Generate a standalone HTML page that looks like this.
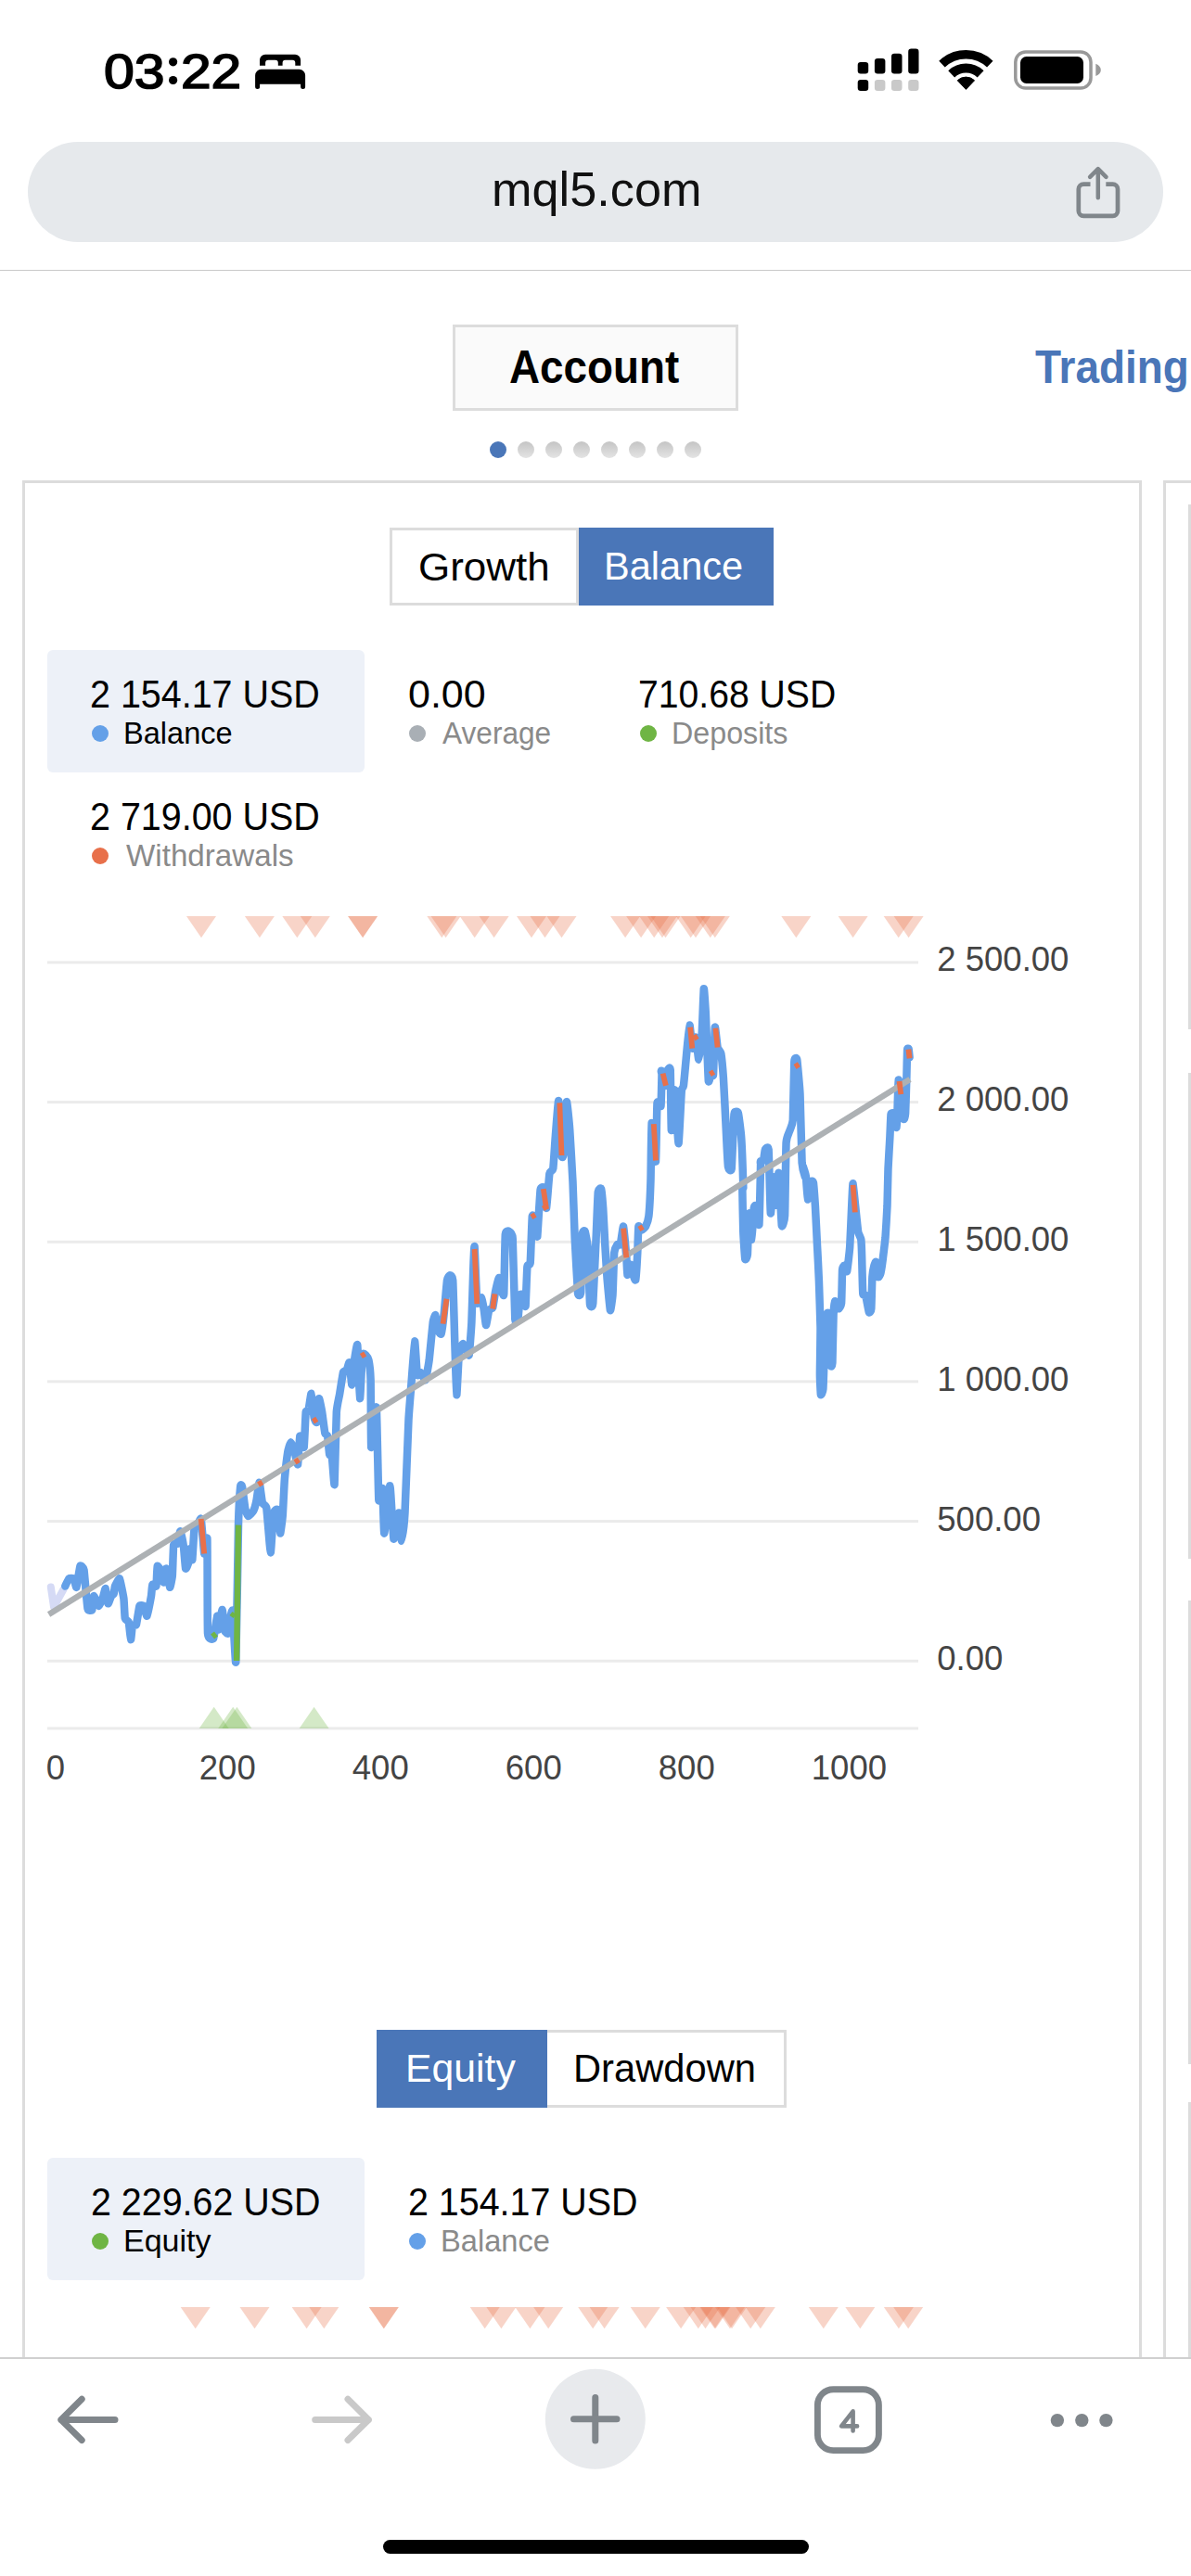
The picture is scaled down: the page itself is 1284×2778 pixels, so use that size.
<!DOCTYPE html>
<html><head><meta charset="utf-8">
<style>
*{margin:0;padding:0;box-sizing:border-box}
html,body{width:1284px;height:2778px;background:#fff;overflow:hidden}
body{position:relative;font-family:"Liberation Sans",sans-serif;color:#000}
.abs{position:absolute}
.t{position:absolute;white-space:nowrap;line-height:1}
.f{position:absolute;white-space:nowrap;line-height:1;transform-origin:0 0}
#time{left:110px;top:48px;font-size:54px;font-weight:bold;letter-spacing:1.5px}
#urlbar{left:30px;top:153px;width:1224px;height:108px;border-radius:54px;background:#e6e9ec}
#url{left:0;width:1284px;text-align:center;top:179px;font-size:50px;color:#111}
#sep1{left:0;top:291px;width:1284px;height:1px;background:#c9c9c9}
#acct{left:488px;top:350px;width:308px;height:93px;border:3px solid #dcdcdc;background:#fafafa}
#acct-t{left:488px;width:308px;text-align:center;top:372px;font-size:48px;font-weight:bold}
#trading{left:1115px;top:372px;font-size:48px;font-weight:bold;color:#4a76b8;letter-spacing:-2px}
.dot{position:absolute;width:18.5px;height:18.5px;border-radius:50%;top:475.5px;background:linear-gradient(#c4c4c4,#e4e4e4)}
.dot.on{background:#4a76b8;box-shadow:none}
#panel{left:24px;top:518px;width:1206.5px;height:2100px;border:3px solid #dcdcdc;background:#fff}
#panel2{left:1254px;top:518px;width:100px;height:2100px;border:3px solid #dcdcdc;background:#fff}
.frag{position:absolute;left:1281px;width:3px;background:#dcdcdc}
.btn{position:absolute;height:84px;font-size:42px;text-align:center;line-height:84px;white-space:nowrap}
.btn.off{border:3px solid #dcdcdc;background:#fff;color:#000;line-height:78px}
.btn.on{background:#4a76b8;color:#fff}
.sbox{position:absolute;background:#edf1f8;border-radius:6px;width:342px;height:132px;left:51px}
.val{position:absolute;white-space:nowrap;font-size:41px;line-height:1;letter-spacing:-1.4px}
.lab{position:absolute;white-space:nowrap;font-size:31px;line-height:1}
.lab.g{color:#8a8a8a}
.bul{position:absolute;width:18px;height:18px;border-radius:50%}
.ax{position:absolute;white-space:nowrap;font-size:36.5px;line-height:1;color:#444;transform-origin:0 0;transform:scaleX(1.0)}
#toolbar{left:0;top:2542px;width:1284px;height:236px;background:#fff;border-top:2px solid #d0d0d0}
#home{left:413px;top:2739px;width:459px;height:15px;border-radius:8px;background:#000}
</style></head><body>
<!-- status bar -->
<div class="f" style="left:111.7px;top:50.8px;font-size:52.6px;-webkit-text-stroke:1.6px #000;transform:scaleX(1.12)">03</div><div class="f" style="left:195.3px;top:50.8px;font-size:52.6px;-webkit-text-stroke:1.6px #000;transform:scaleX(1.115)">22</div>
<svg class="abs" style="left:0;top:0" width="1284" height="140" viewBox="0 0 1284 140">
 <circle cx="186.6" cy="66.8" r="4.6" fill="#000"/><circle cx="186.6" cy="86.5" r="4.6" fill="#000"/>
 <!-- bed -->
 <path d="M280,70.8 v-6 a6,6 0 0 1 6,-6 h32.1 a6,6 0 0 1 6,6 v6 h-5.8 v-3 a3,3 0 0 0 -3,-3 h-7.7 a3,3 0 0 0 -3,3 v3 h-4.8 v-3 a3,3 0 0 0 -3,-3 h-7.7 a3,3 0 0 0 -3,3 v3 z" fill="#000"/>
 <path d="M275.1,93.4 v-12.1 a6.5,6.5 0 0 1 6.5,-6.5 h41 a6.5,6.5 0 0 1 6.5,6.5 v12.1 a2.5,2.5 0 0 1 -5,0 v-2.6 h-44 v2.6 a2.5,2.5 0 0 1 -5,0 z" fill="#000"/>
 <!-- signal -->
 <rect x="924.7" y="66.9" width="11.5" height="12.6" rx="3.2" fill="#000"/>
 <rect x="942.9" y="62.9" width="11.5" height="16.6" rx="3.2" fill="#000"/>
 <rect x="961" y="57.8" width="11.5" height="21.7" rx="3.2" fill="#000"/>
 <rect x="979.2" y="52.6" width="11.3" height="26.9" rx="3.2" fill="#000"/>
 <rect x="924.7" y="85.9" width="11.5" height="12.1" rx="3.2" fill="#000"/>
 <rect x="942.9" y="85.9" width="11.5" height="12.1" rx="3.2" fill="#c9c9c9"/>
 <rect x="961" y="85.9" width="11.5" height="12.1" rx="3.2" fill="#c9c9c9"/>
 <rect x="979.2" y="85.9" width="11.3" height="12.1" rx="3.2" fill="#c9c9c9"/>
 <!-- wifi -->
 <path d="M1015.52,69.13 A37.6,37.6 0 0 1 1067.28,69.13" fill="none" stroke="#000" stroke-width="9.4"/><path d="M1025.71,79.86 A22.8,22.8 0 0 1 1057.09,79.86" fill="none" stroke="#000" stroke-width="10"/><path d="M1041.4,96.4 L1032.24,86.75 A13.3,13.3 0 0 1 1050.56,86.75 z" fill="#000" stroke="#000" stroke-width="1" stroke-linejoin="round"/>
 <!-- battery -->
 <rect x="1094.8" y="55.9" width="81.2" height="39.2" rx="11" fill="none" stroke="#999" stroke-width="3.5"/>
 <rect x="1100" y="61" width="68" height="29" rx="6.5" fill="#000"/>
 <path d="M1181.3,68.7 q5.5,2.5 5.5,6.7 q0,4.2 -5.5,6.7 z" fill="#999"/>
</svg>
<!-- url bar -->
<div class="abs" id="urlbar"></div>
<div class="f" style="left:529.6px;top:178.7px;font-size:51.1px;font-weight:normal;color:#111;transform:scaleX(1.0228)">mql5.com</div>
<svg class="abs" style="left:1150px;top:170px" width="70" height="80" viewBox="1150 170 70 80">
 <path d="M1175.5,198.6 h-7.3 a5.4,5.4 0 0 0 -5.4,5.4 v23.5 a5.4,5.4 0 0 0 5.4,5.4 h31.4 a5.4,5.4 0 0 0 5.4,-5.4 v-23.5 a5.4,5.4 0 0 0 -5.4,-5.4 h-7.3" fill="none" stroke="#80868b" stroke-width="4.7"/>
 <path d="M1183.8,213.2 V182.4 M1175.1,190.9 L1183.8,182.2 L1192.5,190.9" fill="none" stroke="#80868b" stroke-width="4.5" stroke-linecap="round" stroke-linejoin="round"/>
</svg>
<div class="abs" id="sep1"></div>
<!-- tabs -->
<div class="abs" id="acct"></div>
<div class="f" style="left:549.3px;top:371.0px;font-size:50.0px;font-weight:bold;color:#000;transform:scaleX(0.9157)">Account</div>
<div class="f" style="left:1116.4px;top:371.7px;font-size:49.7px;font-weight:bold;color:#4a76b8;transform:scaleX(0.924)">Trading</div>
<div class="dot on" style="left:527.5px"></div><div class="dot" style="left:557.5px"></div><div class="dot" style="left:587.5px"></div><div class="dot" style="left:617.5px"></div><div class="dot" style="left:647.5px"></div><div class="dot" style="left:677.5px"></div><div class="dot" style="left:707.5px"></div><div class="dot" style="left:737.5px"></div>
<!-- panel -->
<div class="abs" id="panel"></div>
<div class="abs" id="panel2"></div>
<div class="frag" style="top:544px;height:566px"></div>
<div class="frag" style="top:1157px;height:524px"></div>
<div class="frag" style="top:1726px;height:500px"></div>
<div class="frag" style="top:2267px;height:300px"></div>

<div class="btn off" style="left:420px;top:569px;width:204px"></div><div class="f" style="left:451.0px;top:590.1px;font-size:43.0px;font-weight:normal;color:#000;transform:scaleX(1.0224)">Growth</div>
<div class="btn on" style="left:624px;top:569px;width:210px"></div><div class="f" style="left:651.0px;top:589.3px;font-size:43.0px;font-weight:normal;color:#fff;transform:scaleX(0.966)">Balance</div>

<div class="sbox" style="top:701px"></div>
<div class="f" style="left:97.1px;top:728.4px;font-size:42.0px;font-weight:normal;color:#000;transform:scaleX(0.9392)">2 154.17 USD</div>
<div class="bul" style="left:99px;top:782px;background:#64a0e8"></div>
<div class="f" style="left:132.8px;top:775.0px;font-size:32.5px;font-weight:normal;color:#000;transform:scaleX(1.0018)">Balance</div>

<div class="f" style="left:439.7px;top:728.4px;font-size:42.0px;font-weight:normal;color:#000;transform:scaleX(1.0231)">0.00</div>
<div class="bul" style="left:441px;top:782px;background:#a9afb5"></div>
<div class="f" style="left:477.0px;top:775.0px;font-size:32.5px;font-weight:normal;color:#8a8a8a;transform:scaleX(0.9723)">Average</div>

<div class="f" style="left:688.1px;top:728.4px;font-size:42.0px;font-weight:normal;color:#000;transform:scaleX(0.9316)">710.68 USD</div>
<div class="bul" style="left:690px;top:782px;background:#6fb544"></div>
<div class="f" style="left:724.0px;top:775.0px;font-size:32.5px;font-weight:normal;color:#8a8a8a;transform:scaleX(0.9918)">Deposits</div>

<div class="f" style="left:97.1px;top:860.4px;font-size:42.0px;font-weight:normal;color:#000;transform:scaleX(0.9392)">2 719.00 USD</div>
<div class="bul" style="left:99px;top:914px;background:#e8704a"></div>
<div class="f" style="left:135.8px;top:907.0px;font-size:32.5px;font-weight:normal;color:#8a8a8a;transform:scaleX(1.0205)">Withdrawals</div>

<svg id="chart" width="1284" height="2778" viewBox="0 0 1284 2778" style="position:absolute;left:0;top:0">
<rect x="51" y="1036.4" width="939" height="3" fill="#ebebeb"/>
<rect x="51" y="1187.1" width="939" height="3" fill="#ebebeb"/>
<rect x="51" y="1337.8" width="939" height="3" fill="#ebebeb"/>
<rect x="51" y="1488.4" width="939" height="3" fill="#ebebeb"/>
<rect x="51" y="1639.1" width="939" height="3" fill="#ebebeb"/>
<rect x="51" y="1789.8" width="939" height="3" fill="#ebebeb"/>
<rect x="51" y="1862.4" width="939" height="3" fill="#ebebeb"/>
<path d="M201,988 h32 l-16,23.3z" fill="#e8704a" fill-opacity="0.3"/>
<path d="M263.9,988 h32 l-16,23.3z" fill="#e8704a" fill-opacity="0.3"/>
<path d="M304.3,988 h32 l-16,23.3z" fill="#e8704a" fill-opacity="0.3"/>
<path d="M323.8,988 h32 l-16,23.3z" fill="#e8704a" fill-opacity="0.3"/>
<path d="M375.1,988 h32 l-16,23.3z" fill="#e8704a" fill-opacity="0.3"/>
<path d="M375.1,988 h32 l-16,23.3z" fill="#e8704a" fill-opacity="0.3"/>
<path d="M460.3,988 h32 l-16,23.3z" fill="#e8704a" fill-opacity="0.3"/>
<path d="M464.6,988 h32 l-16,23.3z" fill="#e8704a" fill-opacity="0.3"/>
<path d="M495.7,988 h32 l-16,23.3z" fill="#e8704a" fill-opacity="0.3"/>
<path d="M516.6,988 h32 l-16,23.3z" fill="#e8704a" fill-opacity="0.3"/>
<path d="M557,988 h32 l-16,23.3z" fill="#e8704a" fill-opacity="0.3"/>
<path d="M571.5,988 h32 l-16,23.3z" fill="#e8704a" fill-opacity="0.3"/>
<path d="M589.5,988 h32 l-16,23.3z" fill="#e8704a" fill-opacity="0.3"/>
<path d="M658.1,988 h32 l-16,23.3z" fill="#e8704a" fill-opacity="0.3"/>
<path d="M675.1,988 h32 l-16,23.3z" fill="#e8704a" fill-opacity="0.3"/>
<path d="M689.2,988 h32 l-16,23.3z" fill="#e8704a" fill-opacity="0.3"/>
<path d="M698,988 h32 l-16,23.3z" fill="#e8704a" fill-opacity="0.3"/>
<path d="M701.5,988 h32 l-16,23.3z" fill="#e8704a" fill-opacity="0.3"/>
<path d="M728.7,988 h32 l-16,23.3z" fill="#e8704a" fill-opacity="0.3"/>
<path d="M734,988 h32 l-16,23.3z" fill="#e8704a" fill-opacity="0.3"/>
<path d="M749.8,988 h32 l-16,23.3z" fill="#e8704a" fill-opacity="0.3"/>
<path d="M754.8,988 h32 l-16,23.3z" fill="#e8704a" fill-opacity="0.3"/>
<path d="M842.3,988 h32 l-16,23.3z" fill="#e8704a" fill-opacity="0.3"/>
<path d="M903.6,988 h32 l-16,23.3z" fill="#e8704a" fill-opacity="0.3"/>
<path d="M952.7,988 h32 l-16,23.3z" fill="#e8704a" fill-opacity="0.3"/>
<path d="M963.6,988 h32 l-16,23.3z" fill="#e8704a" fill-opacity="0.3"/>
<path d="M194.7,2488 h32 l-16,23.3z" fill="#e8704a" fill-opacity="0.3"/>
<path d="M258.5,2488 h32 l-16,23.3z" fill="#e8704a" fill-opacity="0.3"/>
<path d="M314.6,2488 h32 l-16,23.3z" fill="#e8704a" fill-opacity="0.3"/>
<path d="M333.3,2488 h32 l-16,23.3z" fill="#e8704a" fill-opacity="0.3"/>
<path d="M397.8,2488 h32 l-16,23.3z" fill="#e8704a" fill-opacity="0.3"/>
<path d="M397.8,2488 h32 l-16,23.3z" fill="#e8704a" fill-opacity="0.3"/>
<path d="M506.70000000000005,2488 h32 l-16,23.3z" fill="#e8704a" fill-opacity="0.3"/>
<path d="M524.4,2488 h32 l-16,23.3z" fill="#e8704a" fill-opacity="0.3"/>
<path d="M555.4,2488 h32 l-16,23.3z" fill="#e8704a" fill-opacity="0.3"/>
<path d="M575.2,2488 h32 l-16,23.3z" fill="#e8704a" fill-opacity="0.3"/>
<path d="M623.2,2488 h32 l-16,23.3z" fill="#e8704a" fill-opacity="0.3"/>
<path d="M635.6,2488 h32 l-16,23.3z" fill="#e8704a" fill-opacity="0.3"/>
<path d="M679.7,2488 h32 l-16,23.3z" fill="#e8704a" fill-opacity="0.3"/>
<path d="M718.1,2488 h32 l-16,23.3z" fill="#e8704a" fill-opacity="0.3"/>
<path d="M736.8,2488 h32 l-16,23.3z" fill="#e8704a" fill-opacity="0.3"/>
<path d="M744.5,2488 h32 l-16,23.3z" fill="#e8704a" fill-opacity="0.3"/>
<path d="M754.4,2488 h32 l-16,23.3z" fill="#e8704a" fill-opacity="0.3"/>
<path d="M755.5,2488 h32 l-16,23.3z" fill="#e8704a" fill-opacity="0.3"/>
<path d="M771,2488 h32 l-16,23.3z" fill="#e8704a" fill-opacity="0.3"/>
<path d="M773,2488 h32 l-16,23.3z" fill="#e8704a" fill-opacity="0.3"/>
<path d="M793.2,2488 h32 l-16,23.3z" fill="#e8704a" fill-opacity="0.3"/>
<path d="M803.8,2488 h32 l-16,23.3z" fill="#e8704a" fill-opacity="0.3"/>
<path d="M871.8,2488 h32 l-16,23.3z" fill="#e8704a" fill-opacity="0.3"/>
<path d="M911.3,2488 h32 l-16,23.3z" fill="#e8704a" fill-opacity="0.3"/>
<path d="M952.9,2488 h32 l-16,23.3z" fill="#e8704a" fill-opacity="0.3"/>
<path d="M963.2,2488 h32 l-16,23.3z" fill="#e8704a" fill-opacity="0.3"/>
<path d="M214.7,1864 h32 l-16,-23.3z" fill="#6fb544" fill-opacity="0.3"/>
<path d="M235.2,1864 h32 l-16,-23.3z" fill="#6fb544" fill-opacity="0.3"/>
<path d="M239.4,1864 h32 l-16,-23.3z" fill="#6fb544" fill-opacity="0.3"/>
<path d="M322.6,1864 h32 l-16,-23.3z" fill="#6fb544" fill-opacity="0.3"/>
<polyline points="54.8,1711.5 58,1733 68.5,1714" fill="none" stroke="#d5daf5" stroke-width="8" stroke-linejoin="round" stroke-linecap="round"/>
<path d="M70.3,1710.5 C70.6,1710.0 73.7,1702.9 74.3,1702.4 C74.9,1701.9 79.2,1701.8 79.7,1702.4 C80.2,1703.0 82.0,1712.7 82.4,1711.8 C82.8,1710.9 85.9,1690.3 86.4,1689.0 C86.9,1687.7 90.0,1690.0 90.5,1693.0 C91.0,1696.0 93.9,1731.7 94.5,1734.6 C95.1,1737.5 98.9,1736.9 99.3,1736.0 C99.7,1735.1 100.7,1721.5 101.2,1721.2 C101.7,1720.9 106.0,1731.8 106.6,1732.0 C107.2,1732.2 110.1,1725.2 110.6,1723.9 C111.1,1722.6 113.4,1712.7 113.8,1713.1 C114.2,1713.5 116.1,1728.8 116.5,1729.3 C116.9,1729.8 119.6,1721.9 120.0,1721.2 C120.4,1720.5 122.4,1719.2 122.7,1718.5 C123.0,1717.8 123.6,1711.6 124.0,1710.5 C124.4,1709.4 128.3,1701.5 128.9,1702.4 C129.5,1703.3 133.0,1721.0 133.4,1723.9 C133.8,1726.8 134.4,1743.7 134.8,1745.4 C135.2,1747.1 138.4,1747.9 138.8,1749.4 C139.2,1750.9 140.7,1767.9 141.0,1768.2 C141.3,1768.5 142.4,1754.5 142.8,1753.4 C143.2,1752.3 146.4,1753.5 146.9,1752.1 C147.4,1750.7 149.9,1733.3 150.4,1732.0 C150.9,1730.7 154.4,1731.3 154.9,1732.0 C155.4,1732.7 157.9,1743.4 158.4,1742.7 C158.9,1742.0 162.6,1723.4 163.0,1721.2 C163.4,1719.0 163.9,1709.8 164.3,1709.1 C164.7,1708.4 168.0,1711.8 168.4,1710.5 C168.8,1709.2 169.3,1690.1 169.7,1689.0 C170.1,1687.9 173.3,1693.1 173.7,1694.3 C174.1,1695.5 176.0,1706.6 176.4,1706.4 C176.8,1706.2 178.7,1691.2 179.1,1691.6 C179.5,1692.0 182.7,1711.3 183.1,1711.8 C183.5,1712.3 185.5,1702.7 185.8,1699.7 C186.1,1696.7 186.8,1668.4 187.2,1666.1 C187.6,1663.8 190.7,1665.8 191.2,1664.8 C191.7,1663.8 194.0,1651.1 194.4,1651.3 C194.8,1651.5 197.5,1664.8 197.9,1667.5 C198.3,1670.2 199.7,1690.4 200.1,1691.6 C200.5,1692.8 203.0,1686.3 203.3,1684.9 C203.6,1683.5 204.3,1670.4 204.6,1670.2 C204.9,1670.0 207.0,1683.6 207.3,1682.2 C207.6,1680.8 209.1,1651.1 209.5,1648.7 C209.9,1646.3 212.2,1646.7 212.7,1646.0 C213.2,1645.3 216.2,1635.9 216.7,1637.9 C217.2,1639.9 219.8,1674.1 220.2,1675.5 C220.6,1676.9 223.1,1653.7 223.4,1659.4 C223.7,1665.1 223.5,1754.3 224.0,1761.5 C224.5,1768.7 229.5,1768.2 230.2,1766.9 C230.9,1765.6 233.8,1743.3 234.2,1742.7 C234.6,1742.1 235.1,1757.9 235.5,1757.5 C235.9,1757.1 239.1,1735.9 239.6,1736.0 C240.1,1736.1 241.9,1757.1 242.3,1758.8 C242.7,1760.5 245.9,1762.4 246.3,1761.5 C246.7,1760.6 247.9,1747.0 248.2,1745.4 C248.5,1743.8 250.4,1734.2 250.8,1737.3 C251.2,1740.4 253.9,1798.6 254.3,1792.4 C254.7,1786.2 256.7,1657.2 257.0,1644.6 C257.3,1632.0 258.9,1605.8 259.2,1603.0 C259.5,1600.2 260.8,1601.7 261.1,1603.3 C261.4,1604.9 264.0,1625.2 264.4,1627.3 C264.8,1629.4 267.0,1634.9 267.6,1635.0 C268.2,1635.1 272.5,1630.6 273.1,1629.5 C273.7,1628.4 276.0,1620.6 276.4,1618.6 C276.8,1616.6 279.2,1598.8 279.6,1598.9 C280.0,1599.0 282.4,1619.0 282.9,1620.8 C283.4,1622.6 286.7,1622.6 287.3,1626.2 C287.9,1629.8 291.2,1673.9 291.7,1674.3 C292.2,1674.7 294.4,1634.8 294.9,1631.7 C295.4,1628.6 298.8,1626.9 299.3,1628.4 C299.8,1629.9 301.7,1653.1 302.1,1653.5 C302.5,1653.9 304.5,1637.8 304.8,1633.9 C305.1,1630.0 306.5,1599.1 306.9,1594.6 C307.3,1590.1 309.8,1568.8 310.2,1566.2 C310.6,1563.6 313.0,1555.4 313.5,1555.3 C314.0,1555.2 316.7,1562.4 317.2,1564.0 C317.7,1565.6 320.7,1580.3 321.1,1579.3 C321.5,1578.3 322.9,1549.9 323.3,1548.7 C323.7,1547.5 327.3,1562.4 327.7,1560.7 C328.1,1559.0 329.4,1525.6 329.7,1523.0 C330.0,1520.4 332.0,1523.0 332.4,1521.7 C332.8,1520.4 335.2,1502.4 335.6,1502.8 C336.0,1503.2 338.2,1526.3 338.6,1528.4 C339.0,1530.5 340.9,1535.0 341.3,1533.7 C341.7,1532.4 343.5,1508.9 343.9,1508.2 C344.3,1507.5 346.8,1520.5 347.2,1523.0 C347.6,1525.5 350.0,1544.1 350.4,1545.8 C350.8,1547.5 352.8,1547.0 353.1,1548.5 C353.4,1550.0 354.9,1567.2 355.2,1568.7 C355.5,1570.2 357.5,1569.3 357.9,1571.4 C358.3,1573.5 360.3,1604.1 360.6,1600.9 C360.9,1597.7 362.4,1529.4 362.8,1523.0 C363.2,1516.6 365.5,1507.1 366.0,1504.2 C366.5,1501.3 369.5,1481.8 370.0,1480.0 C370.5,1478.2 373.6,1478.0 374.0,1477.3 C374.4,1476.6 376.3,1468.2 376.7,1469.3 C377.1,1470.4 379.0,1493.6 379.4,1493.4 C379.8,1493.2 381.7,1469.5 382.1,1466.6 C382.5,1463.7 384.9,1447.7 385.3,1450.5 C385.7,1453.3 387.6,1507.5 388.0,1508.2 C388.4,1508.9 390.3,1464.3 390.7,1461.2 C391.1,1458.1 393.8,1460.8 394.2,1461.2 C394.6,1461.6 397.0,1464.8 397.4,1466.6 C397.8,1468.4 399.4,1481.8 399.6,1488.1 C399.8,1494.4 399.8,1558.9 400.2,1560.9 C400.6,1562.9 405.3,1513.8 405.8,1517.6 C406.3,1521.4 407.9,1611.5 408.3,1617.3 C408.7,1623.1 411.9,1602.8 412.3,1605.2 C412.7,1607.6 413.8,1653.8 414.3,1653.6 C414.8,1653.4 419.7,1601.8 420.4,1602.2 C421.1,1602.6 423.8,1657.7 424.4,1659.6 C425.0,1661.5 429.4,1631.3 430,1631.4 C430.6,1631.5 432.6,1661.7 433,1661.7 C433.4,1661.7 436.0,1640.1 436.5,1631.4 C437.0,1622.7 440.0,1540.1 440.5,1530.7 C441.0,1521.3 443.2,1496.0 443.6,1490.4 C444.0,1484.8 446.7,1446.9 447.1,1446.4 C447.5,1445.9 449.4,1480.5 449.8,1482.7 C450.2,1484.9 452.7,1479.6 453.3,1480.0 C453.9,1480.4 458.1,1489.0 458.7,1488.1 C459.3,1487.2 462.2,1470.7 462.7,1466.6 C463.2,1462.5 466.3,1429.5 466.7,1426.3 C467.1,1423.1 469.0,1417.7 469.4,1418.2 C469.8,1418.7 471.7,1433.0 472.1,1434.3 C472.5,1435.6 475.2,1439.7 475.6,1438.4 C476.0,1437.1 478.4,1419.4 478.8,1415.5 C479.2,1411.6 481.6,1383.3 482.0,1380.6 C482.4,1377.9 484.6,1375.2 485.0,1375.2 C485.4,1375.2 487.8,1375.6 488.2,1380.6 C488.6,1385.6 490.1,1442.3 490.4,1450.5 C490.7,1458.7 492.0,1503.7 492.3,1504.2 C492.6,1504.7 494.5,1462.2 494.9,1458.5 C495.3,1454.8 498.5,1449.3 499.0,1449.1 C499.5,1448.9 502.1,1455.0 502.5,1455.8 C502.9,1456.6 505.3,1463.2 505.7,1461.2 C506.1,1459.2 508.1,1432.6 508.4,1426.3 C508.7,1420.0 510.1,1372.7 510.3,1367.2 C510.5,1361.7 511.3,1341.8 511.6,1344.3 C511.9,1346.8 513.8,1401.1 514.3,1404.8 C514.8,1408.5 518.6,1398.9 519.1,1399.4 C519.6,1399.9 521.5,1410.8 521.8,1412.8 C522.1,1414.8 523.6,1429.0 524.0,1429.0 C524.4,1429.0 526.7,1414.1 527.2,1412.8 C527.7,1411.5 530.8,1411.5 531.2,1410.2 C531.6,1408.9 533.5,1396.2 533.9,1394.0 C534.3,1391.8 537.4,1377.8 537.9,1377.9 C538.4,1378.0 541.6,1394.3 542.0,1395.4 C542.4,1396.5 543.1,1398.8 543.3,1394.5 C543.5,1390.2 544.4,1335.6 544.8,1331.2 C545.2,1326.8 548.2,1327.6 548.7,1327.9 C549.2,1328.2 552.3,1329.2 552.7,1335.5 C553.1,1341.8 554.9,1417.2 555.3,1422.9 C555.7,1428.6 558.2,1422.4 558.6,1420.7 C559.0,1419.0 560.3,1398.3 560.7,1396.7 C561.1,1395.1 564.7,1395.9 565.1,1396.7 C565.5,1397.5 566.4,1410.7 566.6,1408.7 C566.8,1406.7 568.1,1369.2 568.4,1366.1 C568.7,1363.0 571.3,1365.3 571.7,1361.7 C572.1,1358.1 573.4,1314.6 573.8,1311.5 C574.2,1308.4 577.8,1314.4 578.2,1315.9 C578.6,1317.4 579.0,1335.6 579.3,1333.4 C579.6,1331.2 582.1,1286.7 582.6,1283.2 C583.1,1279.7 585.9,1279.7 586.3,1281.0 C586.7,1282.3 588.7,1303.8 589.1,1302.8 C589.5,1301.8 591.9,1268.5 592.4,1265.7 C592.9,1262.9 595.9,1263.0 596.3,1260.2 C596.7,1257.4 598.5,1229.1 598.9,1224.2 C599.3,1219.3 601.8,1185.6 602.2,1187.1 C602.6,1188.6 605.1,1242.2 605.5,1246.0 C605.9,1249.8 607.3,1247.8 607.7,1243.9 C608.1,1240.0 610.5,1189.9 610.9,1188.2 C611.3,1186.5 613.8,1212.0 614.2,1217.7 C614.6,1223.4 617.1,1266.5 617.5,1274.4 C617.9,1282.3 619.3,1327.5 619.7,1335.5 C620.1,1343.5 622.6,1390.6 623.0,1394.5 C623.4,1398.4 625.9,1397.6 626.2,1393.4 C626.5,1389.2 627.5,1335.6 627.8,1331.2 C628.1,1326.8 630.2,1326.9 630.6,1327.9 C631.0,1328.9 633.5,1341.3 633.9,1346.5 C634.3,1351.7 635.6,1402.6 636.0,1406.5 C636.4,1410.4 638.9,1410.1 639.3,1405.4 C639.7,1400.7 642.2,1343.5 642.6,1335.5 C643.0,1327.5 644.4,1288.9 644.8,1285.3 C645.2,1281.7 647.7,1280.9 648.1,1282.1 C648.5,1283.3 649.9,1298.7 650.2,1302.8 C650.5,1306.9 652.1,1339.2 652.4,1344.3 C652.7,1349.4 654.2,1374.6 654.6,1379.2 C655.0,1383.8 657.5,1411.8 657.9,1413.0 C658.3,1414.2 660.2,1400.8 660.5,1396.7 C660.8,1392.6 661.9,1354.4 662.2,1350.8 C662.5,1347.2 665.1,1342.7 665.5,1342.1 C665.9,1341.5 668.4,1343.4 668.8,1342.1 C669.2,1340.8 671.7,1321.6 672.1,1322.5 C672.5,1323.4 675.0,1351.7 675.3,1355.2 C675.6,1358.7 676.1,1374.2 676.4,1374.8 C676.7,1375.4 679.3,1364.0 679.7,1363.9 C680.1,1363.8 681.5,1371.6 681.9,1372.7 C682.3,1373.8 684.8,1381.8 685.2,1380.3 C685.6,1378.8 687.1,1354.7 687.3,1350.8 C687.5,1346.9 688.1,1324.1 688.4,1322.5 C688.7,1320.9 691.2,1326.8 691.7,1326.8 C692.2,1326.8 695.6,1323.5 696.1,1322.5 C696.6,1321.5 699.0,1314.9 699.4,1311.5 C699.8,1308.1 701.3,1278.9 701.5,1272.2 C701.7,1265.5 702.2,1212.4 702.6,1211.1 C703.0,1209.8 706.6,1254.1 707.0,1252.6 C707.4,1251.1 708.1,1193.3 708.5,1189.3 C708.9,1185.3 712.2,1194.8 712.5,1192.6 C712.8,1190.4 713.5,1159.0 713.5,1156.5 C713.5,1154.0 712.6,1154.7 712.9,1155.7 C713.2,1156.7 716.9,1171.1 717.3,1171.0 C717.7,1170.9 719.1,1155.8 719.5,1154.6 C719.9,1153.4 722.4,1149.2 722.7,1153.5 C723.0,1157.8 723.5,1217.5 723.8,1219.0 C724.1,1220.5 727.0,1174.4 727.5,1175.3 C728.0,1176.2 731.0,1233.1 731.5,1233.2 C732.0,1233.3 734.4,1180.5 734.8,1176.4 C735.2,1172.3 736.5,1173.7 736.9,1171.0 C737.3,1168.3 739.8,1140.4 740.2,1136.0 C740.6,1131.6 743.1,1105.9 743.5,1105.5 C743.9,1105.1 745.9,1129.7 746.3,1130.6 C746.7,1131.5 749.5,1117.8 750.0,1118.6 C750.5,1119.4 752.9,1142.7 753.3,1142.6 C753.7,1142.5 756.2,1121.5 756.6,1116.4 C757.0,1111.3 758.5,1067.7 758.8,1066.2 C759.1,1064.7 760.6,1088.0 760.9,1094.6 C761.2,1101.2 763.4,1161.3 763.8,1165.5 C764.2,1169.7 766.1,1158.3 766.4,1157.9 C766.7,1157.5 768.7,1162.3 769.0,1159.0 C769.3,1155.7 770.5,1109.7 770.8,1107.7 C771.1,1105.7 773.2,1127.6 773.6,1129.5 C774.0,1131.4 776.9,1133.8 777.3,1136.0 C777.7,1138.2 779.5,1156.7 779.9,1162.2 C780.3,1167.7 782.5,1212.6 782.8,1219.0 C783.1,1225.4 784.6,1255.5 785.0,1258.3 C785.4,1261.1 788.3,1264.3 788.7,1260.5 C789.1,1256.7 791.0,1205.5 791.5,1201.5 C792.0,1197.5 795.4,1198.8 795.9,1200.4 C796.4,1202.0 798.7,1220.2 799.1,1225.5 C799.5,1230.8 801.2,1276.4 801.3,1280.1 C801.4,1283.8 800.3,1277.1 800.3,1280.3 C800.3,1283.5 801.1,1323.5 801.3,1328.7 C801.5,1333.9 803.0,1356.3 803.3,1357.9 C803.6,1359.5 805.6,1356.1 805.9,1352.8 C806.2,1349.5 807.1,1309.6 807.4,1308.5 C807.7,1307.4 810.0,1337.1 810.4,1336.7 C810.8,1336.3 812.5,1304.9 812.8,1302.5 C813.1,1300.1 814.4,1299.3 814.8,1300.5 C815.2,1301.7 818.0,1323.7 818.4,1320.6 C818.8,1317.5 820.0,1258.5 820.1,1254.1 C820.2,1249.7 819.7,1254.1 819.9,1253.9 C820.1,1253.7 822.9,1251.6 823.2,1250.7 C823.5,1249.8 824.5,1240.4 824.9,1239.7 C825.3,1239.0 828.2,1235.1 828.6,1239.7 C829.0,1244.3 830.4,1306.5 830.8,1308.5 C831.2,1310.5 833.7,1269.8 834.1,1269.2 C834.5,1268.6 836.9,1300.1 837.3,1299.8 C837.7,1299.5 839.1,1263.3 839.5,1264.8 C839.9,1266.3 842.4,1318.5 842.8,1321.6 C843.2,1324.7 845.8,1316.7 846.1,1310.7 C846.4,1304.7 847.2,1238.2 847.6,1232.1 C848.0,1226.0 851.0,1220.6 851.5,1219.0 C852.0,1217.4 854.5,1213.0 854.8,1208.1 C855.1,1203.2 856.0,1149.2 856.3,1144.8 C856.6,1140.4 858.8,1140.3 859.2,1142.6 C859.6,1144.9 862.1,1172.3 862.5,1179.7 C862.9,1187.1 864.2,1247.9 864.6,1253.9 C865.0,1259.9 867.8,1268.9 867.9,1269.2 C868.0,1269.5 865.7,1258.2 865.8,1258.1 C865.9,1258.0 868.5,1265.8 868.8,1268.2 C869.1,1270.6 870.5,1293.0 870.8,1293.4 C871.1,1293.8 873.5,1275.5 873.9,1274.3 C874.3,1273.1 876.6,1273.6 876.9,1275.3 C877.2,1277.0 878.6,1296.1 878.9,1300.5 C879.2,1304.9 880.6,1335.4 880.9,1340.8 C881.2,1346.2 882.7,1375.1 882.9,1381.1 C883.1,1387.1 884.4,1424.7 884.5,1431.4 C884.6,1438.1 883.9,1477.0 883.9,1481.8 C883.9,1486.6 884.7,1502.9 884.9,1504.0 C885.1,1505.1 887.1,1501.4 887.4,1497.9 C887.7,1494.4 888.8,1456.8 889.0,1451.6 C889.2,1446.4 890.7,1421.6 891.0,1419.3 C891.3,1417.0 892.7,1413.8 893.0,1417.3 C893.3,1420.8 895.1,1468.2 895.4,1471.7 C895.7,1475.2 897.2,1473.3 897.4,1469.7 C897.6,1466.1 898.4,1421.7 898.6,1417.3 C898.8,1412.9 899.7,1403.6 900.1,1403.2 C900.5,1402.8 903.6,1411.2 904.1,1411.3 C904.6,1411.4 906.8,1408.0 907.1,1405.2 C907.4,1402.4 907.9,1371.7 908.1,1369.0 C908.3,1366.3 909.8,1364.8 910.1,1364.9 C910.4,1365.0 912.7,1372.3 913.1,1371.0 C913.5,1369.7 915.9,1349.5 916.2,1344.8 C916.5,1340.1 918.0,1305.1 918.2,1300.5 C918.4,1295.9 919.3,1275.6 919.6,1276.3 C919.9,1277.0 922.8,1307.0 923.2,1310.5 C923.6,1314.0 924.9,1327.0 925.2,1328.7 C925.5,1330.4 928.0,1334.6 928.3,1336.7 C928.6,1338.8 929.2,1357.0 929.3,1360.9 C929.4,1364.8 930.0,1392.8 930.3,1395.2 C930.6,1397.6 932.9,1395.9 933.3,1397.2 C933.7,1398.5 936.5,1414.4 936.9,1415.3 C937.3,1416.2 939.1,1413.9 939.3,1411.3 C939.5,1408.7 940.2,1380.1 940.4,1377.0 C940.6,1373.9 942.1,1366.0 942.4,1364.9 C942.7,1363.8 944.1,1360.1 944.4,1360.9 C944.7,1361.7 946.7,1376.2 947.0,1377.0 C947.3,1377.8 949.0,1374.6 949.4,1373.0 C949.8,1371.4 952.1,1355.4 952.4,1352.8 C952.7,1350.2 954.2,1338.2 954.5,1334.7 C954.8,1331.2 956.3,1305.5 956.5,1300.5 C956.7,1295.5 957.3,1265.2 957.5,1260.2 C957.7,1255.2 959.2,1229.8 959.4,1225.9 C959.6,1222.0 960.3,1203.5 960.5,1201.8 C960.7,1200.1 962.6,1199.9 963.0,1200.8 C963.4,1201.7 966.2,1216.6 966.5,1215.9 C966.8,1215.2 967.6,1194.1 967.7,1190.7 C967.8,1187.3 968.4,1165.2 968.7,1164.5 C969.0,1163.8 971.6,1177.8 972.0,1180.6 C972.4,1183.4 974.1,1205.5 974.4,1206.8 C974.7,1208.1 975.9,1203.9 976.1,1200.8 C976.3,1197.7 977.3,1165.1 977.4,1160.5 C977.5,1155.9 978.0,1134.2 978.1,1132.2 C978.2,1130.2 979.4,1130.7 979.6,1131.2 C979.8,1131.7 980.5,1139.7 980.6,1140.3" fill="none" stroke="#64a0e8" stroke-width="8.5" stroke-linejoin="round" stroke-linecap="round"/>
<line x1="255.1" y1="1791" x2="257" y2="1644.6" stroke="#6fb544" stroke-width="6.4"/>
<line x1="229" y1="1761" x2="233" y2="1766" stroke="#6fb544" stroke-width="5"/>
<line x1="249" y1="1740" x2="253" y2="1743" stroke="#6fb544" stroke-width="5"/>
<line x1="52.6" y1="1741" x2="981" y2="1164" stroke="#adb1b4" stroke-width="6.2"/>
<line x1="216.7" y1="1637.9" x2="220.2" y2="1675.5" stroke="#e8704a" stroke-width="5.8"/>
<line x1="481.5" y1="1400.8" x2="477.5" y2="1427.6" stroke="#e8704a" stroke-width="5.8"/>
<line x1="511.6" y1="1347" x2="514.3" y2="1406.1" stroke="#e8704a" stroke-width="5.8"/>
<line x1="533.4" y1="1395.4" x2="531.2" y2="1411.5" stroke="#e8704a" stroke-width="5.8"/>
<line x1="603.3" y1="1189.3" x2="605.5" y2="1246" stroke="#e8704a" stroke-width="5.8"/>
<line x1="585.8" y1="1282.1" x2="589.1" y2="1303.9" stroke="#e8704a" stroke-width="5.8"/>
<line x1="672.1" y1="1324.6" x2="675.3" y2="1356.3" stroke="#e8704a" stroke-width="5.8"/>
<line x1="704.8" y1="1212.2" x2="707" y2="1251.5" stroke="#e8704a" stroke-width="5.8"/>
<line x1="714.6" y1="1157.6" x2="717.9" y2="1170.7" stroke="#e8704a" stroke-width="5.8"/>
<line x1="744.1" y1="1107.7" x2="746.3" y2="1130.6" stroke="#e8704a" stroke-width="5.8"/>
<line x1="771.4" y1="1108.8" x2="773.6" y2="1129.5" stroke="#e8704a" stroke-width="5.8"/>
<line x1="919.6" y1="1277.9" x2="921.8" y2="1307.4" stroke="#e8704a" stroke-width="5.8"/>
<line x1="969.5" y1="1166" x2="971.3" y2="1180.1" stroke="#e8704a" stroke-width="5.8"/>
<line x1="979.4" y1="1131.7" x2="980.6" y2="1141.3" stroke="#e8704a" stroke-width="5.8"/>
<line x1="279.2" y1="1597.3" x2="282.2" y2="1602.3" stroke="#e8704a" stroke-width="5"/>
<line x1="318.7" y1="1573.1" x2="321.7" y2="1578.1" stroke="#e8704a" stroke-width="5"/>
<line x1="390.0" y1="1458.7" x2="393.0" y2="1463.7" stroke="#e8704a" stroke-width="5"/>
<line x1="338.1" y1="1529.1" x2="341.1" y2="1534.1" stroke="#e8704a" stroke-width="5"/>
<line x1="573.5" y1="1308.8" x2="576.5" y2="1313.8" stroke="#e8704a" stroke-width="5"/>
<line x1="586.1" y1="1299.6" x2="589.1" y2="1304.6" stroke="#e8704a" stroke-width="5"/>
<line x1="689.6" y1="1321.7" x2="692.6" y2="1326.7" stroke="#e8704a" stroke-width="5"/>
<line x1="766.0" y1="1154.7" x2="769.0" y2="1159.7" stroke="#e8704a" stroke-width="5"/>
<line x1="748.5" y1="1116.1" x2="751.5" y2="1121.1" stroke="#e8704a" stroke-width="5"/>
<line x1="857.7" y1="1146.6" x2="860.7" y2="1151.6" stroke="#e8704a" stroke-width="5"/>
</svg>
<div class="ax" style="left:1010.3px;top:1016.9px">2 500.00</div>
<div class="ax" style="left:1010.3px;top:1167.8px">2 000.00</div>
<div class="ax" style="left:1010.3px;top:1318.7px">1 500.00</div>
<div class="ax" style="left:1010.3px;top:1469.6px">1 000.00</div>
<div class="ax" style="left:1010.3px;top:1620.5px">500.00</div>
<div class="ax" style="left:1010.3px;top:1771.4px">0.00</div>
<div class="ax" style="left:49.8px;top:1888.6px">0</div>
<div class="ax" style="left:214.8px;top:1888.6px">200</div>
<div class="ax" style="left:379.8px;top:1888.6px">400</div>
<div class="ax" style="left:544.8px;top:1888.6px">600</div>
<div class="ax" style="left:709.8px;top:1888.6px">800</div>
<div class="ax" style="left:874.8px;top:1888.6px">1000</div>

<div class="btn on" style="left:406px;top:2189px;width:184px"></div><div class="f" style="left:437.0px;top:2209.2px;font-size:42.6px;font-weight:normal;color:#fff;transform:scaleX(1.0043)">Equity</div>
<div class="btn off" style="left:590px;top:2189px;width:257.5px;border-left:none"></div><div class="f" style="left:617.7px;top:2209.2px;font-size:42.6px;font-weight:normal;color:#000;transform:scaleX(0.9786)">Drawdown</div>

<div class="sbox" style="top:2327px"></div>
<div class="f" style="left:97.5px;top:2354.0px;font-size:42.0px;font-weight:normal;color:#000;transform:scaleX(0.9381)">2 229.62 USD</div>
<div class="bul" style="left:99px;top:2408px;background:#6fb544"></div>
<div class="f" style="left:132.7px;top:2400.6px;font-size:32.5px;font-weight:normal;color:#000;transform:scaleX(1.0471)">Equity</div>
<div class="f" style="left:439.5px;top:2354.0px;font-size:42.0px;font-weight:normal;color:#000;transform:scaleX(0.9381)">2 154.17 USD</div>
<div class="bul" style="left:441px;top:2408px;background:#64a0e8"></div>
<div class="f" style="left:474.9px;top:2400.6px;font-size:32.5px;font-weight:normal;color:#8a8a8a;transform:scaleX(1.0035)">Balance</div>

<!-- toolbar -->
<div class="abs" id="toolbar"></div>
<svg class="abs" style="left:0;top:2544px" width="1284" height="234" viewBox="0 2544 1284 234">
 <path d="M124,2609.4 H65.8 M88.2,2587.3 L65.8,2609.4 L88.2,2631.5" fill="none" stroke="#80868b" stroke-width="7" stroke-linecap="round" stroke-linejoin="round"/>
 <path d="M339.7,2609.4 H397.4 M375,2587.3 L397.4,2609.4 L375,2631.5" fill="none" stroke="#c9c9c9" stroke-width="7" stroke-linecap="round" stroke-linejoin="round"/>
 <circle cx="641.8" cy="2608.8" r="54" fill="#e8eaed"/>
 <path d="M618.5,2608.8 H665 M641.8,2585.5 V2632" fill="none" stroke="#80868b" stroke-width="7" stroke-linecap="round"/>
 <rect x="881.4" y="2576.7" width="66" height="65.9" rx="17" fill="none" stroke="#80868b" stroke-width="6.9"/>
 <path d="M919.6,2621.4 V2600.4 L907.1,2616.4 H924.1" fill="none" stroke="#80868b" stroke-width="4.6" stroke-linecap="round" stroke-linejoin="round"/>
 <circle cx="1139.9" cy="2610.1" r="7.2" fill="#80868b"/>
 <circle cx="1166.3" cy="2610.1" r="7.2" fill="#80868b"/>
 <circle cx="1192.4" cy="2610.1" r="7.2" fill="#80868b"/>
</svg>

<div class="abs" id="home"></div>
</body></html>
